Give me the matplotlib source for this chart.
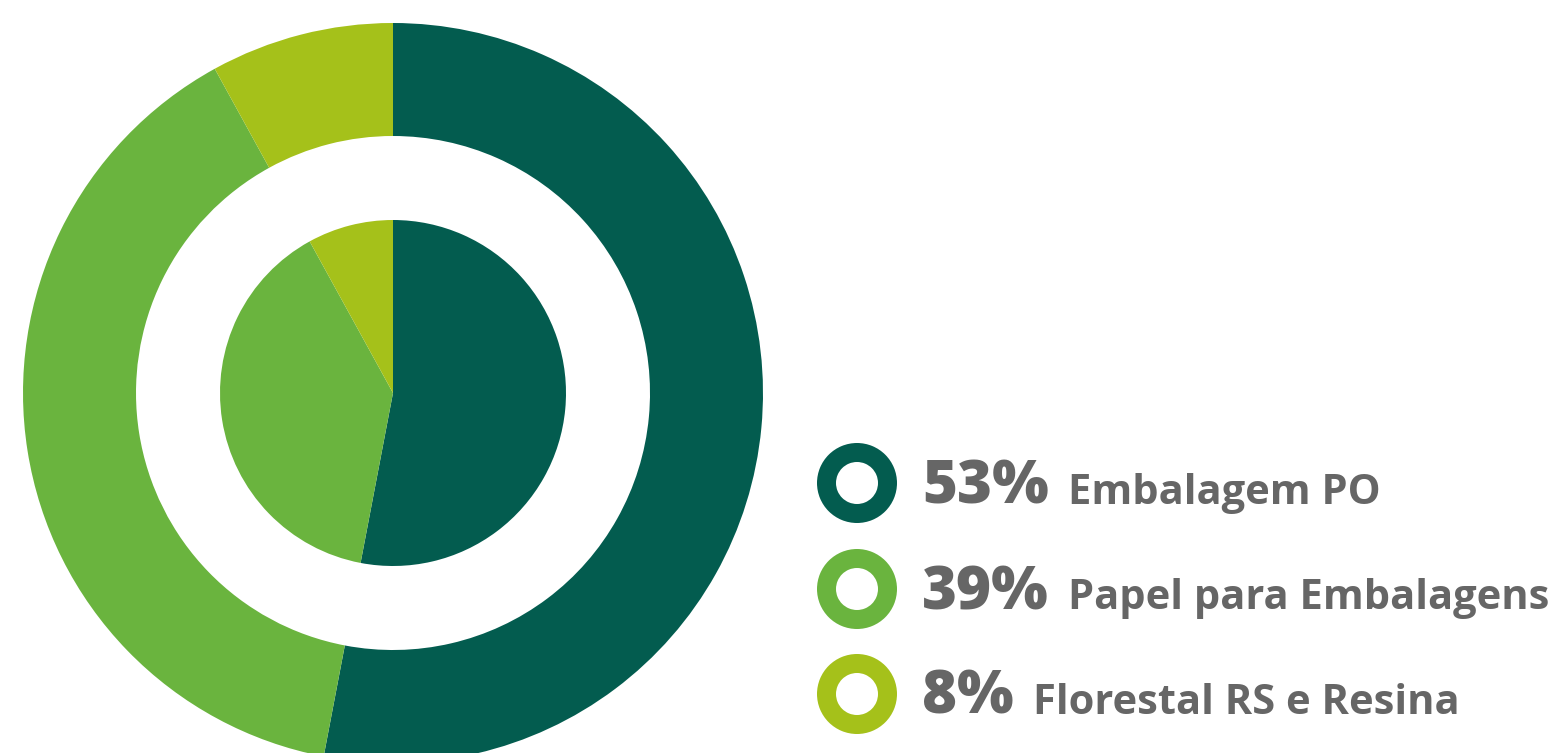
import matplotlib
matplotlib.use("Agg")
import matplotlib.pyplot as plt
from matplotlib.patches import Wedge

# data
labels = ["Embalagem PO", "Papel para Embalagens", "Florestal RS e Resina"]
shares = [53, 39, 8]
colors = ["#035c4f", "#6ab43e", "#a5c11a"]

W, H = 1567, 753
fig = plt.figure(figsize=(W / 100, H / 100), dpi=100)
ax = fig.add_axes([0, 0, 1, 1])
ax.set_xlim(0, W)
ax.set_ylim(0, H)
ax.set_aspect("equal")
ax.axis("off")

cx, cy = 393, H - 393

# outer ring
ax.pie(shares, colors=colors, startangle=90, counterclock=False,
       center=(cx, cy), radius=370, frame=True,
       wedgeprops=dict(width=113, linewidth=0))
# inner pie
ax.pie(shares, colors=colors, startangle=90, counterclock=False,
       center=(cx, cy), radius=173, frame=True,
       wedgeprops=dict(linewidth=0))
ax.set_xlim(0, W)
ax.set_ylim(0, H)
ax.axis("off")

# legend
font = "Open Sans"
grey = "#666666"
rows_y = [H - 483, H - 589, H - 694]
base_y = [H - 504, H - 609, H - 714]
renderer = fig.canvas.get_renderer()
for i in range(len(labels)):
    ax.add_patch(Wedge((857, rows_y[i]), 40, 0, 360, width=19,
                       facecolor=colors[i], edgecolor="none"))
    t = ax.text(922, base_y[i], f"{shares[i]}%", fontsize=43, fontweight=800,
                family=font, color=grey, va="baseline", ha="left")
    bb = t.get_window_extent(renderer)
    ax.text(bb.x1 + 19, base_y[i], labels[i], fontsize=30, fontweight="bold",
            family=font, color=grey, va="baseline", ha="left")

fig.savefig("out.png", dpi=100)
